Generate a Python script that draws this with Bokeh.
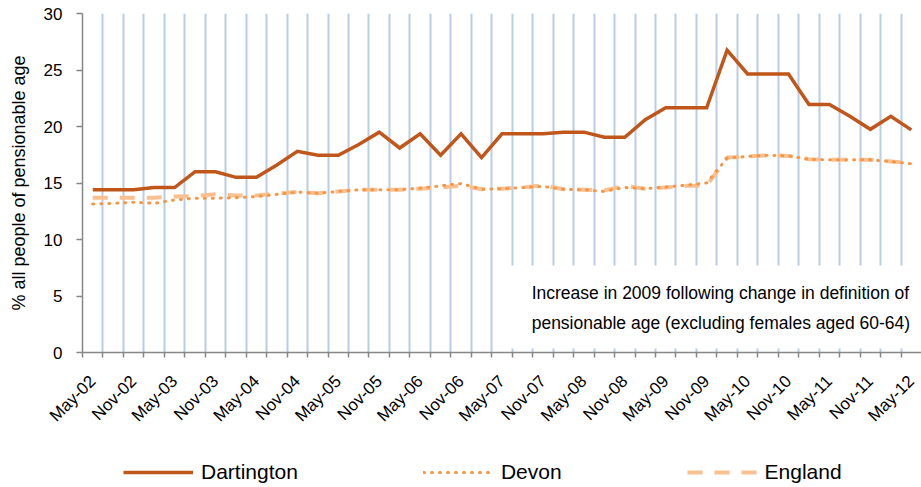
import math
from bokeh.plotting import figure
from bokeh.layouts import column
from bokeh.models import (FixedTicker, Legend, LegendItem, BoxAnnotation, Range1d,
                          ColumnDataSource)
from bokeh.core.properties import value
from bokeh.embed import file_html
from bokeh.resources import INLINE

# ---- data ----
periods = ["May-02", "Aug-02", "Nov-02", "Feb-03", "May-03", "Aug-03", "Nov-03", "Feb-04",
           "May-04", "Aug-04", "Nov-04", "Feb-05", "May-05", "Aug-05", "Nov-05", "Feb-06",
           "May-06", "Aug-06", "Nov-06", "Feb-07", "May-07", "Aug-07", "Nov-07", "Feb-08",
           "May-08", "Aug-08", "Nov-08", "Feb-09", "May-09", "Aug-09", "Nov-09", "Feb-10",
           "May-10", "Aug-10", "Nov-10", "Feb-11", "May-11", "Aug-11", "Nov-11", "Feb-12",
           "May-12"]
dartington = [14.4, 14.4, 14.4, 14.6, 14.6, 16.0, 16.0, 15.5, 15.5, 16.6, 17.8, 17.45,
              17.45, 18.4, 19.5, 18.1, 19.35, 17.45, 19.35, 17.25, 19.35, 19.35, 19.35, 19.5,
              19.5, 19.05, 19.05, 20.6, 21.65, 21.65, 21.65, 26.75, 24.65, 24.65, 24.65, 21.95,
              21.95, 20.9, 19.75, 20.9, 19.7]
devon = [13.15, 13.2, 13.3, 13.2, 13.5, 13.65, 13.65, 13.7, 13.8, 14.0, 14.2, 14.1,
         14.25, 14.4, 14.4, 14.4, 14.55, 14.75, 14.95, 14.45, 14.5, 14.6, 14.7, 14.45,
         14.4, 14.25, 14.6, 14.5, 14.65, 14.8, 15.0, 17.2, 17.35, 17.45, 17.4, 17.1,
         17.05, 17.05, 17.05, 16.9, 16.7]
england = [13.7, 13.7, 13.7, 13.7, 13.8, 13.85, 14.0, 13.9, 13.9, 14.05, 14.2, 14.1,
           14.25, 14.4, 14.4, 14.4, 14.5, 14.6, 14.75, 14.45, 14.5, 14.6, 14.8, 14.45,
           14.4, 14.35, 14.75, 14.5, 14.6, 14.75, 14.75, 17.25, 17.35, 17.45, 17.4, 17.1,
           17.05, 17.05, 17.05, 16.9, 16.75]
y_ticks = [0, 5, 10, 15, 20, 25, 30]
note_lines = ["Increase in 2009 following change in definition of",
              "pensionable age (excluding females aged 60-64)"]
series_names = ["Dartington", "Devon", "England"]

FONT = "Liberation Sans"
STYLES = {
    "Dartington": dict(line_color="#C0561A", line_width=3.5, line_join="miter"),
    "Devon": dict(line_color="#F79646", line_width=3, line_dash="1 7", line_cap="round"),
    "England": dict(line_color="#FAC090", line_width=4, line_dash="15 12"),
}

idx = list(range(len(periods)))
src = ColumnDataSource(dict(x=idx, dart=dartington, devon=devon, eng=england))

p = figure(width=921, height=450, output_backend="svg", toolbar_location=None,
           x_range=Range1d(-0.5, len(periods) - 0.5), y_range=Range1d(0, 30),
           min_border_left=82, min_border_right=0, min_border_top=13, min_border_bottom=98)
p.outline_line_color = None
p.background_fill_color = "white"
p.border_fill_color = "white"

# grid: vertical light-blue lines at category boundaries
bounds = [i + 0.5 for i in range(len(periods) - 1)]
p.ygrid.grid_line_color = None
p.xgrid.ticker = FixedTicker(ticks=bounds)
p.xgrid.grid_line_color = "#B9CDE5"
p.xgrid.grid_line_width = 2

# x axis: labels every 6 months at category centres, tick marks at boundaries
xa = p.xaxis[0]
label_pos = list(range(0, len(periods), 2))
xa.ticker = FixedTicker(ticks=label_pos, minor_ticks=[-0.5] + bounds)
xa.major_label_overrides = {i: periods[i] for i in label_pos}
xa.major_label_orientation = math.pi / 4
xa.major_tick_out = 0
xa.major_tick_in = 0
xa.minor_tick_out = 5
xa.minor_tick_in = 0
xa.minor_tick_line_color = "#868686"
xa.minor_tick_line_width = 1.5
xa.axis_line_color = "#868686"
xa.axis_line_width = 1.5
xa.major_label_text_font = FONT
xa.major_label_text_font_size = "17px"
xa.major_label_text_color = "#000000"
xa.major_label_standoff = 21

ya = p.yaxis[0]
ya.ticker = FixedTicker(ticks=y_ticks)
ya.minor_tick_line_color = None
ya.major_tick_out = 6
ya.major_tick_in = 0
ya.major_tick_line_color = "#868686"
ya.major_tick_line_width = 1.5
ya.axis_line_color = "#868686"
ya.axis_line_width = 1.5
ya.major_label_text_font = FONT
ya.major_label_text_font_size = "17px"
ya.major_label_text_color = "#000000"
ya.major_label_standoff = 14
ya.axis_label = "% all people of pensionable age"
ya.axis_label_text_font = FONT
ya.axis_label_text_font_size = "18px"
ya.axis_label_text_font_style = "normal"
ya.axis_label_text_color = "#000000"
ya.axis_label_standoff = 12

p.line("x", "dart", source=src, **STYLES["Dartington"])
p.line("x", "eng", source=src, **STYLES["England"])
p.line("x", "devon", source=src, **STYLES["Devon"])

# annotation note box
p.add_layout(BoxAnnotation(left=20.0, right=len(periods) - 0.5, bottom=0.35, top=7.7,
                           fill_color="white", fill_alpha=1.0, line_alpha=0,
                           level="underlay"))
p.text(x=[21.45, 21.45], y=[5.3, 2.65], text=note_lines,
       text_font=value(FONT), text_font_size="17.5px", text_color="#000000",
       text_baseline="middle", text_align="left")

# legend strip below the chart (its frame is aligned with the chart's frame)
leg = figure(width=921, height=40, output_backend="svg", toolbar_location=None,
             x_range=Range1d(0, 1), y_range=Range1d(0, 1),
             min_border=0, min_border_left=0, min_border_right=0,
             min_border_top=0, min_border_bottom=0)
leg.axis.visible = False
leg.grid.visible = False
leg.outline_line_color = None
leg.background_fill_color = "white"
leg.border_fill_color = "white"
nan = float("nan")
items = []
for name in series_names:
    r = leg.line(x=[nan, nan], y=[nan, nan], **STYLES[name])
    items.append(LegendItem(label=name, renderers=[r]))
legend = Legend(items=items, orientation="horizontal", location=(41, 6),
                glyph_width=70, glyph_height=20, label_standoff=8, spacing=125,
                padding=0, margin=0, border_line_alpha=0, background_fill_alpha=0,
                label_text_font=FONT, label_text_font_size="21px",
                label_text_color="#000000")
leg.add_layout(legend, "center")

layout = column(p, leg, spacing=0)
open("out.html", "w").write(file_html(layout, INLINE))
